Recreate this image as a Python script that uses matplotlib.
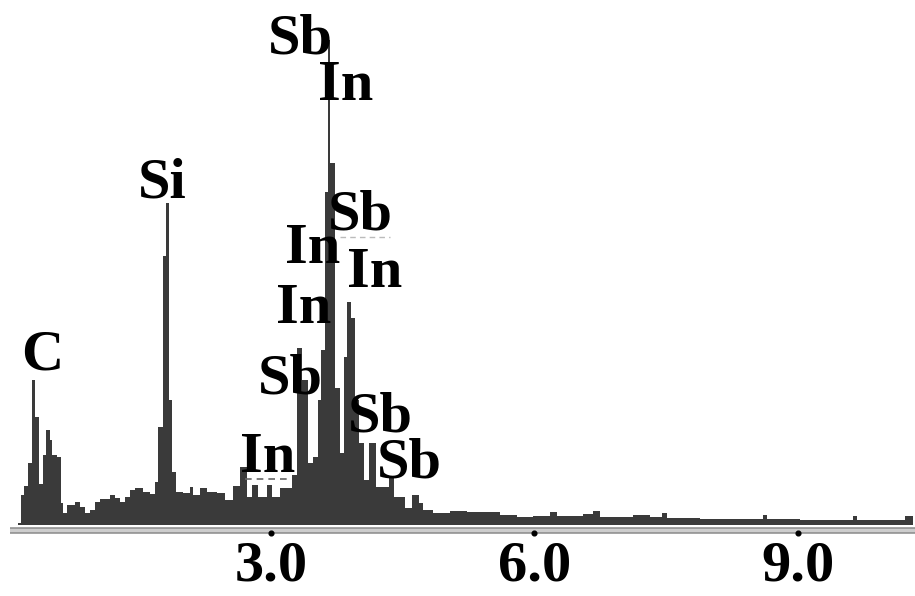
import matplotlib
matplotlib.use("Agg")
import matplotlib.pyplot as plt

# EDS spectrum: channel edges (keV) and counts per channel
edges_kev = [0.120, 0.154, 0.188, 0.233, 0.279, 0.313, 0.359, 0.404, 0.438, 0.484,
             0.507, 0.564, 0.609, 0.632, 0.677, 0.769, 0.825, 0.882, 0.939, 0.996,
             1.053, 1.167, 1.224, 1.281, 1.338, 1.395, 1.452, 1.543, 1.622, 1.679,
             1.714, 1.770, 1.805, 1.839, 1.873, 1.918, 1.998, 2.078, 2.112, 2.192,
             2.271, 2.385, 2.476, 2.567, 2.647, 2.727, 2.784, 2.852, 2.955, 3.011,
             3.103, 3.239, 3.296, 3.353, 3.421, 3.478, 3.535, 3.569, 3.615, 3.649,
             3.672, 3.729, 3.786, 3.831, 3.865, 3.911, 3.957, 4.002, 4.059, 4.116,
             4.196, 4.344, 4.400, 4.526, 4.605, 4.685, 4.731, 4.845, 5.038, 5.232,
             5.414, 5.607, 5.801, 5.983, 6.177, 6.256, 6.552, 6.666, 6.746, 7.122,
             7.315, 7.452, 7.509, 7.885, 8.602, 8.647, 9.023, 9.627, 9.672, 10.219,
             10.310]

counts = [2, 30, 39, 62, 145, 108, 41, 70, 95, 85,
          70, 68, 22, 12, 20, 23, 18, 12, 15, 23,
          26, 30, 27, 23, 28, 35, 37, 33, 31, 43,
          98, 269, 322, 125, 53, 33, 32, 38, 30, 37,
          33, 32, 25, 39, 58, 28, 40, 28, 40, 28,
          37, 50, 177, 145, 62, 68, 125, 175, 333, 485,
          362, 137, 72, 168, 223, 207, 125, 82, 45, 82,
          38, 47, 28, 17, 30, 22, 15, 12, 14, 13,
          13, 10, 8, 9, 13, 9, 11, 14, 8, 10,
          8, 12, 7, 6, 10, 6, 5, 9, 5, 9]

# element labels and their anchor points (keV, counts at text baseline)
element_labels = ["C", "Si", "Sb", "In", "Sb", "In", "In", "In", "Sb", "Sb", "Sb", "In"]
label_kev = [0.393, 1.759, 3.336, 3.848, 4.019, 3.473, 4.179, 3.376, 3.216, 4.241, 4.577, 2.960]
label_counts = [155, 328, 472, 425, 295, 262, 238, 202, 132, 93, 47, 53]

tick_values = [3.0, 6.0, 9.0]
tick_labels = ["3.0", "6.0", "9.0"]

FONT = "Liberation Serif"
FILL = "#3a3a3a"

fig = plt.figure(figsize=(9.15, 5.96), dpi=100)
fig.patch.set_facecolor("white")
ax = fig.add_axes([10 / 915, 59 / 596, 905 / 915, 537 / 596])
ax.set_xlim(0.028, 10.333)
ax.set_ylim(-12, 525)

ax.stairs(counts, edges_kev, baseline=0, fill=True, color=FILL, linewidth=0)

# double-line energy axis
ax.axhspan(-8, -3, color="#cdcdcd", linewidth=0)
ax.axhline(-3, color="#8a8a8a", linewidth=1.1)
ax.axhline(-8, color="#8a8a8a", linewidth=1.1)
ax.plot(tick_values, [-8] * len(tick_values), "o", color="black",
        markersize=3.4, clip_on=False, zorder=5)

for side in ax.spines.values():
    side.set_visible(False)
ax.set_yticks([])
ax.set_xticks(tick_values)
ax.set_xticklabels(tick_labels, fontfamily=FONT, fontweight="bold", fontsize=42)
ax.tick_params(axis="x", length=0, pad=2.5)

for name, e, c in zip(element_labels, label_kev, label_counts):
    ax.text(e, c, name, ha="center", va="baseline", fontfamily=FONT,
            fontweight="bold", fontsize=42, color="black", zorder=6)

# dashed marker lines under labels
ax.plot([2.704, 3.216], [46, 46], linestyle=(0, (4, 3)), color="#666666",
        linewidth=1.2, zorder=4)
ax.plot([3.786, 4.355], [288, 288], linestyle=(0, (4, 3)), color="#bbbbbb",
        linewidth=1.0, zorder=4)

fig.savefig("out.png", dpi=100, facecolor="white")
